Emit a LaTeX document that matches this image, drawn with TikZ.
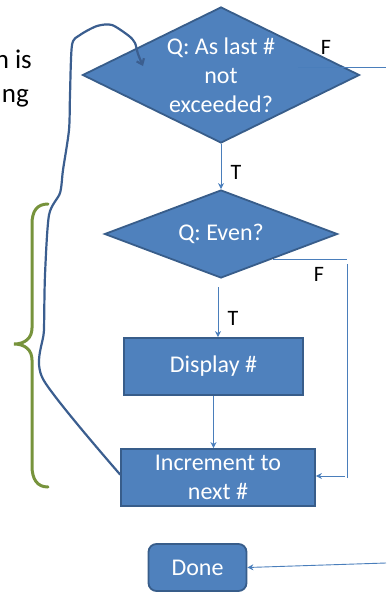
\documentclass[tikz,border=0pt]{standalone}
\usepackage{fontspec}
\setmainfont{Carlito}
\usetikzlibrary{shapes.geometric,arrows.meta,calc}
\definecolor{boxfill}{HTML}{4F81BD}
\definecolor{boxline}{HTML}{385D8A}
\definecolor{conn}{HTML}{4A7EBB}
\definecolor{handblue}{HTML}{3B5E8F}
\definecolor{braceg}{HTML}{77933C}
\tikzset{
  flowbox/.style={draw=boxline, line width=1.8pt, fill=boxfill, text=white, align=center, inner sep=0pt,
    font=\fontsize{24}{29}\selectfont},
  decision/.style={flowbox, diamond, shape aspect=2},
  conline/.style={draw=conn, line width=0.9pt},
  conarrow/.style={conline, -{Stealth[length=6pt,width=6pt]}},
  lbl/.style={font=\fontsize{22}{26}\selectfont, text=black, inner sep=0pt},
  sidetext/.style={font=\fontsize{27}{34}\selectfont, text=black, inner sep=0pt, anchor=base east},
  handloop/.style={draw=handblue, line width=2.2pt, line cap=round, line join=round,
    -{Straight Barb[length=5pt,width=8pt]}},
  bracestyle/.style={draw=braceg, line width=3pt, line cap=round},
}
\begin{document}
\begin{tikzpicture}[x=1pt,y=-1pt]
\useasboundingbox (0,0) rectangle (386,592);
% side text (cut off)
\node[sidetext] (t1) at (32,68) {h is};
\node[sidetext] (t2) at (29,102) {ng};
% brace
\draw[bracestyle] (48,204) .. controls (37,204) and (32,211) .. (32,224) -- (32,328)
  .. controls (32,338) and (25,344) .. (14,344)
  .. controls (25,344) and (32,350) .. (32,360) -- (32,466)
  .. controls (32,479) and (37,487) .. (48,487);
% nodes
\node[decision, minimum width=277pt, minimum height=136pt] (d1) at (221,75) {Q: As last \#\\not\\exceeded?};
\node[decision, minimum width=233pt, minimum height=88pt] (d2) at (221,234) {Q: Even?};
\node[flowbox, minimum width=179pt, minimum height=57pt] (disp) at (213.5,366.5) {Display \#};
\node[flowbox, minimum width=194pt, minimum height=57pt] (inc) at (218,477.5) {Increment to\\next \#};
\node[flowbox, rounded corners=8pt, minimum width=98pt, minimum height=47pt] (done) at (197.5,567.5) {Done};
% coordinates
\coordinate (f1a) at (298,67);
\coordinate (f1b) at (386,67);
\coordinate (f2a) at (273,259);
\coordinate (f2b) at (347,259);
\coordinate (f2c) at (347,264);
\coordinate (f2d) at (347,478);
\coordinate (f2e) at (345,476);
\coordinate (ddone) at (386,563);
\coordinate (t2top) at (218,287);
\coordinate (loopstart) at ($(inc.west)+(0,-3)$);
\coordinate (loopend) at (143,66);
% connectors
\draw[conarrow] (d1.south) -- (d2.north);
\node[lbl] (lt1) at (236,172) {T};
\draw[conline] (f1a) -- (f1b);
\node[lbl] (lf1) at (326,47) {F};
\draw[conarrow] (t2top) -- (t2top |- disp.north);
\node[lbl] (lt2) at (233,318) {T};
\draw[conline] (f2a) -- (f2b);
\draw[conline] (f2c) -- (f2d);
\node[lbl] (lf2) at (319,274) {F};
\draw[conarrow] (f2e) -- (inc.east |- f2e);
\draw[conarrow] (disp.south) -- (disp.south |- inc.north);
\draw[conarrow] (ddone) -- (done.east);
% hand-drawn loop
\draw[handloop] plot[smooth, tension=0.45] coordinates {(loopstart) (43,379) (44,330) (45,275) (49,215) (60,193) (63,170) (69,130) (70,95) (72,45) (80,35) (97,26) (112,25) (129,36) (135,43) (138,54) (loopend)};
\end{tikzpicture}
\end{document}
